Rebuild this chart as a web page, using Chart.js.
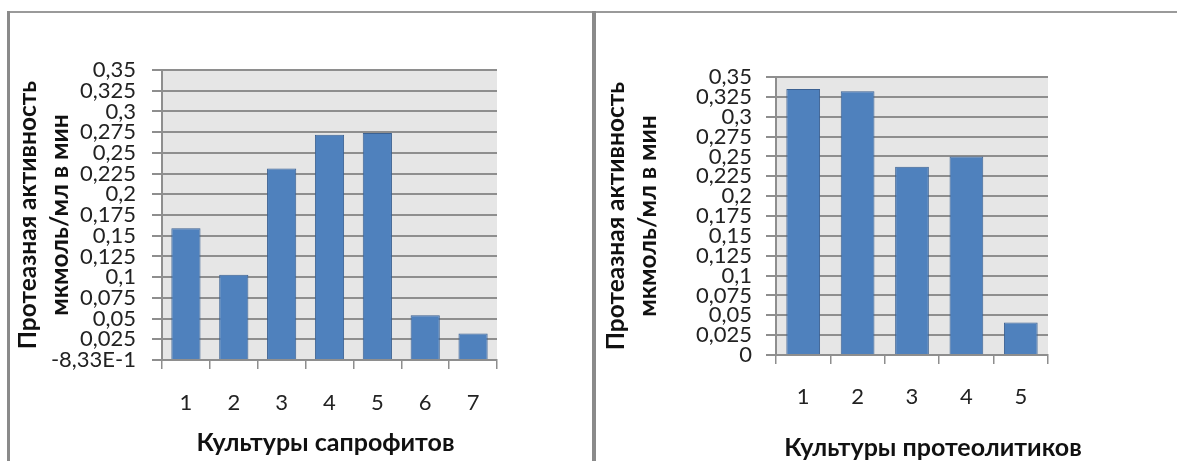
<!DOCTYPE html>
<html>
<head>
<meta charset="utf-8">
<script src="https://cdn.jsdelivr.net/npm/chart.js@4/dist/chart.umd.min.js"></script>
<style>
  html, body { margin: 0; padding: 0; background: #fff; width: 1177px; height: 461px; overflow: hidden; position: relative; }
  .frame-top { position: absolute; left: 7px; top: 11px; width: 1170px; height: 2px; background: #9a9a9a; }
  .frame-left { position: absolute; left: 7px; top: 11px; width: 3px; height: 450px; background: #8a8a8a; }
  .divider { position: absolute; left: 592px; top: 11px; width: 4px; height: 450px; background: #8a8a8a; }
  canvas { position: absolute; }
  #saprophytes { left: 10px; top: 13px; }
  #proteolytics { left: 596px; top: 13px; }
</style>
</head>
<body>
<div class="frame-top"></div>
<div class="frame-left"></div>
<div class="divider"></div>
<canvas id="saprophytes" width="582" height="448"></canvas>
<canvas id="proteolytics" width="581" height="448"></canvas>
<script>
// Protease activity, µmol/ml per min
const saprophyteCultures = ['1', '2', '3', '4', '5', '6', '7'];
const saprophyteActivity = [0.159, 0.103, 0.231, 0.272, 0.274, 0.054, 0.032];

const proteolyticCultures = ['1', '2', '3', '4', '5'];
const proteolyticActivity = [0.335, 0.332, 0.237, 0.250, 0.041];

const saprophyteTickLabels = ['-8,33E-1', '0,025', '0,05', '0,075', '0,1', '0,125', '0,15', '0,175',
  '0,2', '0,225', '0,25', '0,275', '0,3', '0,325', '0,35'];
const proteolyticTickLabels = ['0', '0,025', '0,05', '0,075', '0,1', '0,125', '0,15', '0,175',
  '0,2', '0,225', '0,25', '0,275', '0,3', '0,325', '0,35'];

const yTitle = ['Протеазная активность', 'мкмоль/мл в мин'];
const saprophyteXTitle = 'Культуры сапрофитов';
const proteolyticXTitle = 'Культуры протеолитиков';

const FONT = "Lato, 'Open Sans', sans-serif";
const GRID = '#8e8e8e';

// grey plot-area fill behind the bars
const plotFill = {
  id: 'plotFill',
  beforeDraw(chart) {
    const a = chart.chartArea, ctx = chart.ctx;
    ctx.save();
    ctx.fillStyle = '#e6e6e6';
    ctx.fillRect(a.left, a.top, a.right - a.left, a.bottom - a.top);
    ctx.restore();
  }
};

// category-axis caption under the tick labels, shifted horizontally from the plot centre
const xCaption = {
  id: 'xCaption',
  afterDraw(chart, args, opts) {
    const a = chart.chartArea, ctx = chart.ctx;
    ctx.save();
    ctx.font = 'bold 25px ' + FONT;
    ctx.fillStyle = '#111';
    ctx.textAlign = 'center';
    ctx.textBaseline = 'middle';
    ctx.fillText(opts.text, (a.left + a.right) / 2 + opts.shift, opts.y);
    ctx.restore();
  }
};

function makeChart(id, labels, values, tickLabels, xTitle, box) {
  new Chart(document.getElementById(id), {
    type: 'bar',
    data: {
      labels: labels,
      datasets: [{
        data: values,
        backgroundColor: '#4f81bd',
        borderColor: '#3b6192',
        borderWidth: 1,
        categoryPercentage: 1,
        barPercentage: box.bar
      }]
    },
    options: {
      responsive: false,
      animation: false,
      layout: { padding: { top: box.top, right: box.right, left: 0, bottom: 0 } },
      plugins: {
        legend: { display: false },
        tooltip: { enabled: false },
        xCaption: { text: xTitle, shift: box.captionShift, y: box.captionY }
      },
      scales: {
        x: {
          afterFit(s) { s.height = box.xHeight; },
          grid: { offset: true, drawOnChartArea: false, drawTicks: true, tickLength: 9, color: GRID, lineWidth: 1.5 },
          border: { display: true, color: GRID, width: 2 },
          ticks: { color: '#222', padding: box.xPad, font: { family: FONT, size: 22 } }
        },
        y: {
          min: 0, max: 0.35,
          afterFit(s) { s.width = box.yWidth; },
          grid: { color: GRID, lineWidth: 2, tickLength: 10, drawTicks: true },
          border: { display: true, color: GRID, width: 2 },
          ticks: {
            stepSize: 0.025, autoSkip: false, color: '#222', padding: box.yPad,
            font: { family: FONT, size: 22 },
            callback: (v, i) => tickLabels[i]
          },
          title: {
            display: true, text: yTitle, color: '#111',
            padding: { top: box.yTitleTop, bottom: 0 },
            font: { family: FONT, size: 24.5, weight: 'bold', lineHeight: 1.27 }
          }
        }
      }
    },
    plugins: [plotFill, xCaption]
  });
}

makeChart('saprophytes', saprophyteCultures, saprophyteActivity, saprophyteTickLabels, saprophyteXTitle,
  { top: 57, right: 95, yWidth: 152, xHeight: 101, bar: 0.61, xPad: 21, yPad: 16, yTitleTop: 3,
    captionShift: -4, captionY: 430 });
makeChart('proteolytics', proteolyticCultures, proteolyticActivity, proteolyticTickLabels, proteolyticXTitle,
  { top: 64, right: 129, yWidth: 180, xHeight: 106, bar: 0.62, xPad: 20, yPad: 14, yTitleTop: 5,
    captionShift: 21, captionY: 435 });
</script>
</body>
</html>
